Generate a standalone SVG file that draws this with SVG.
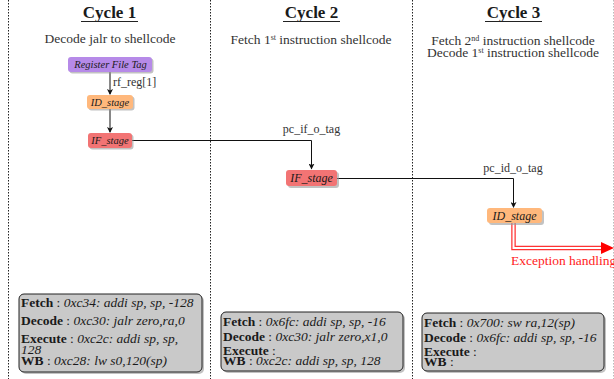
<svg xmlns="http://www.w3.org/2000/svg" width="614" height="379" viewBox="0 0 614 379" font-family="'Liberation Serif', 'DejaVu Serif', serif">
<style>
text{font-family:'Liberation Serif','DejaVu Serif',serif;fill:#1a1a1a}
.title{font-size:17px;font-weight:bold;text-anchor:middle}
.sub{font-size:13.5px;text-anchor:middle;fill:#333}
.sep{stroke:#222;stroke-width:1;stroke-dasharray:1.5,1.5}
.nt{font-style:italic;text-anchor:middle}
.lbl{font-size:12px;fill:#333}
.conn{stroke:#111;stroke-width:1;fill:none}
.box{fill:#c9c9c9;stroke:#222;stroke-width:1}
.shadow{fill:#999;opacity:.6}
.b{font-weight:bold}
.i{font-style:italic}
.bt{font-size:13.5px}
</style>
<defs>
<marker id="ah" markerWidth="6" markerHeight="6" refX="5" refY="3" orient="auto" markerUnits="userSpaceOnUse">
<path d="M0,0 L6,3 L0,6 L1.5,3 Z" fill="#111"/>
</marker>
</defs>
<rect width="614" height="379" fill="#fff"/>
<g id="separators">
<line class="sep" x1="8.5" y1="0" x2="8.5" y2="379"/>
<line class="sep" x1="210.5" y1="0" x2="210.5" y2="379"/>
<line class="sep" x1="412.5" y1="0" x2="412.5" y2="379"/>
<line class="sep" x1="613.5" y1="0" x2="613.5" y2="379" style="stroke:#bbb"/>
</g>
<g id="headers">
<text class="title" x="109.5" y="17.5">Cycle 1</text>
<line x1="81" y1="21.5" x2="138" y2="21.5" stroke="#222" stroke-width="1"/>
<text class="sub" x="110" y="43">Decode jalr to shellcode</text>
<text class="title" x="311.5" y="17.5">Cycle 2</text>
<line x1="283" y1="21.5" x2="340" y2="21.5" stroke="#222" stroke-width="1"/>
<text class="sub" x="311" y="44">Fetch 1<tspan font-size="8" dy="-4.5">st</tspan><tspan dy="4.5"> instruction shellcode</tspan></text>
<text class="title" x="513.5" y="17.5">Cycle 3</text>
<line x1="485" y1="21.5" x2="542" y2="21.5" stroke="#222" stroke-width="1"/>
<text class="sub" x="513" y="45">Fetch 2<tspan font-size="8" dy="-4.5">nd</tspan><tspan dy="4.5"> instruction shellcode</tspan></text>
<text class="sub" x="513" y="57">Decode 1<tspan font-size="8" dy="-4.5">st</tspan><tspan dy="4.5"> instruction shellcode</tspan></text>
</g>
<g id="connectors">
<line class="conn" x1="110" y1="72" x2="110" y2="94" marker-end="url(#ah)"/>
<line class="conn" x1="110" y1="109" x2="110" y2="132" marker-end="url(#ah)"/>
<polyline class="conn" points="132,140.5 311.5,140.5 311.5,168.5" marker-end="url(#ah)"/>
<polyline class="conn" points="337,178.5 513.5,178.5 513.5,207" marker-end="url(#ah)"/>
<polyline points="513.5,223 513.5,248 603,248" fill="none" stroke="#f33" stroke-width="4.5"/>
<polyline points="513.5,223 513.5,248 603,248" fill="none" stroke="#fff" stroke-width="2"/>
<path d="M601,242 L614,248 L601,254 Z" fill="#f00"/>
<text class="lbl" x="113" y="86">rf_reg[1]</text>
<text class="lbl" x="311.5" y="133" text-anchor="middle">pc_if_o_tag</text>
<text class="lbl" x="513" y="172" text-anchor="middle">pc_id_o_tag</text>
<text x="511" y="265" font-size="13.5" style="fill:#f22">Exception handling</text>
</g>
<g id="rf_tag">
<rect x="69.5" y="58.5" width="84" height="15" rx="3" class="shadow"/>
<rect x="68" y="57" width="84" height="15" rx="3" fill="#b68ae8"/>
<text class="nt" x="110.5" y="68" font-size="10.5">Register File Tag</text>
</g>
<g id="id_stage_1">
<rect x="88.5" y="96.5" width="46" height="14" rx="3" class="shadow"/>
<rect x="87" y="95" width="46" height="14" rx="3" fill="#ffb87c"/>
<text class="nt" x="110" y="105.5" font-size="10.5">ID_stage</text>
</g>
<g id="if_stage_1">
<rect x="89.5" y="134.5" width="44" height="15" rx="3" class="shadow"/>
<rect x="88" y="133" width="44" height="15" rx="3" fill="#f27474"/>
<text class="nt" x="110" y="144" font-size="10.5">IF_stage</text>
</g>
<g id="if_stage_2">
<rect x="288" y="172" width="51" height="16" rx="3" class="shadow"/>
<rect x="286" y="170" width="51" height="16" rx="3" fill="#f27474"/>
<text class="nt" x="311.5" y="182" font-size="12">IF_stage</text>
</g>
<g id="id_stage_3">
<rect x="489" y="210" width="55" height="15" rx="3" class="shadow"/>
<rect x="487" y="208" width="55" height="15" rx="3" fill="#ffb87c"/>
<text class="nt" x="514.5" y="219.5" font-size="12">ID_stage</text>
</g>
<g id="state_1">
<rect x="21" y="296" width="183" height="78" rx="5" class="shadow"/>
<rect x="19" y="294" width="183" height="78" rx="5" class="box"/>
<text class="bt" x="21" y="306.5"><tspan class="b">Fetch</tspan> : <tspan class="i">0xc34: addi sp, sp, -128</tspan></text>
<text class="bt" x="21" y="325"><tspan class="b">Decode</tspan> : <tspan class="i">0xc30: jalr zero,ra,0</tspan></text>
<text class="bt" x="21" y="343"><tspan class="b">Execute</tspan> : <tspan class="i">0xc2c: addi sp, sp,</tspan></text>
<text class="bt i" x="21" y="354">128</text>
<text class="bt" x="21" y="365"><tspan class="b">WB</tspan> : <tspan class="i">0xc28: lw s0,120(sp)</tspan></text>
</g>
<g id="state_2">
<rect x="223" y="314" width="182" height="59" rx="5" class="shadow"/>
<rect x="221" y="312" width="182" height="59" rx="5" class="box"/>
<text class="bt" x="223" y="326"><tspan class="b">Fetch</tspan> : <tspan class="i">0x6fc: addi sp, sp, -16</tspan></text>
<text class="bt" x="223" y="340.5"><tspan class="b">Decode</tspan> : <tspan class="i">0xc30: jalr zero,x1,0</tspan></text>
<text class="bt" x="223" y="355"><tspan class="b">Execute</tspan> :</text>
<text class="bt" x="223" y="365"><tspan class="b">WB</tspan> : <tspan class="i">0xc2c: addi sp, sp, 128</tspan></text>
</g>
<g id="state_3">
<rect x="424" y="315" width="182" height="58" rx="5" class="shadow"/>
<rect x="422" y="313" width="182" height="58" rx="5" class="box"/>
<text class="bt" x="424" y="327"><tspan class="b">Fetch</tspan> : <tspan class="i">0x700: sw ra,12(sp)</tspan></text>
<text class="bt" x="424" y="341.5"><tspan class="b">Decode</tspan> : <tspan class="i">0x6fc: addi sp, sp, -16</tspan></text>
<text class="bt" x="424" y="356"><tspan class="b">Execute</tspan> :</text>
<text class="bt" x="424" y="366"><tspan class="b">WB</tspan> :</text>
</g>
</svg>
